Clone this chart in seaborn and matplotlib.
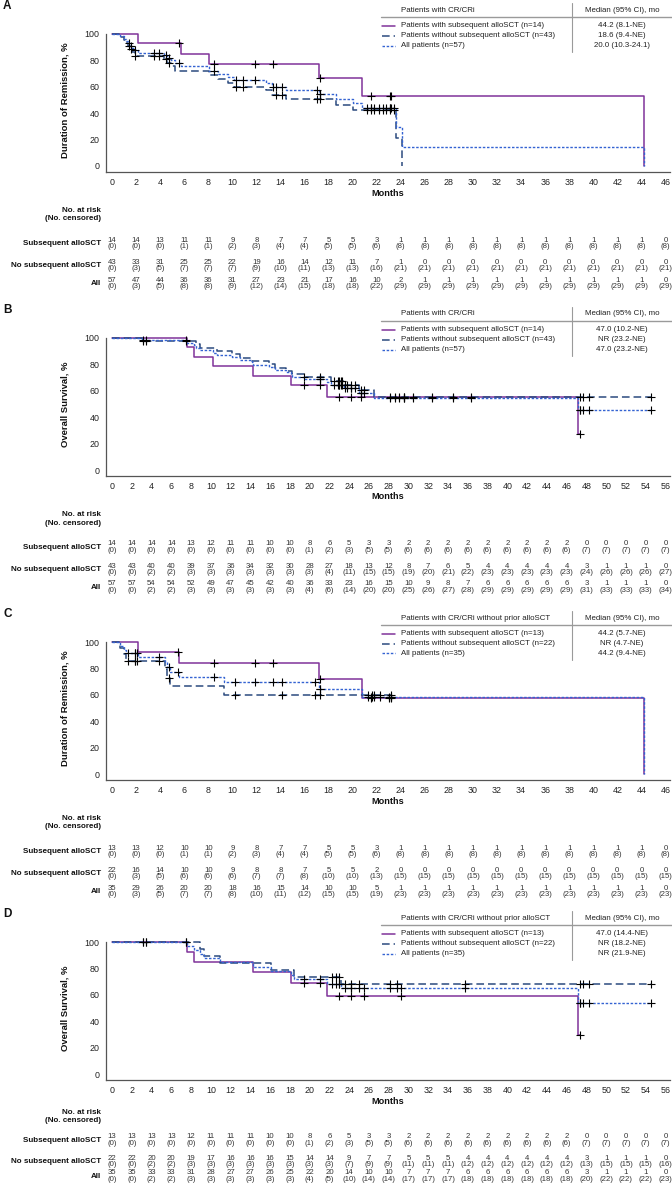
import numpy as np
import pandas as pd
import matplotlib
matplotlib.use('Agg')
import matplotlib.pyplot as plt
from matplotlib.lines import Line2D
from matplotlib.transforms import blended_transform_factory
import seaborn as sns

# Figure size in pixels (saved at dpi 100)
W, H = 672, 1183

# ------------------------------------------------------------------
# Panel A - Duration of remission, patients with CR/CRi
# ------------------------------------------------------------------
A_sub_t = [0, 2.2, 5.7, 8.1, 17.2, 20.8, 44.2]
A_sub_s = [100, 92.9, 85.1, 77.4, 66.3, 53.1, 0]
A_sub_cens = [5.6, 8.5, 11.9, 13.4, 17.3, 21.5, 23.1, 23.2]

A_no_t = [0, 0.7, 1.0, 1.2, 1.3, 1.5, 1.7, 1.9, 4.3, 4.6, 4.9, 5.2, 8.1, 8.8, 9.6, 10.1,
          12.8, 13.3, 14.5, 18.6, 20.0, 23.6, 24.1]
A_no_s = [100, 97.7, 95.3, 93.0, 90.7, 88.4, 86.0, 83.7, 81.0, 78.3, 75.6, 72.0, 69.0, 66.0,
          63.0, 60.2, 57.2, 54.0, 50.4, 46.5, 42.3, 21.2, 0]
A_no_cens = [1.4, 1.6, 1.95, 3.5, 3.9, 4.5, 4.7, 10.3, 10.9, 13.6, 14.1, 17.0, 17.3, 21.2,
             21.5, 21.8, 22.2, 22.5, 22.8, 23.1, 23.4]

A_all_t = [0, 0.7, 1.0, 1.2, 1.3, 1.5, 1.7, 1.9, 2.2, 4.3, 4.6, 4.9, 5.2, 5.7, 8.1, 8.8, 9.6,
           10.1, 12.8, 13.3, 14.5, 17.2, 18.6, 20.0, 20.8, 23.6, 24.1, 44.2]
A_all_s = [100, 98.2, 96.5, 94.7, 93.0, 91.2, 89.4, 87.6, 85.8, 83.8, 81.9, 80.0, 78.1, 76.0,
           71.7, 69.6, 67.5, 65.3, 62.8, 60.2, 57.4, 54.2, 50.8, 47.6, 44.2, 29.5, 14.7, 0]

A_risk_sub = [14, 14, 13, 11, 11, 9, 8, 7, 7, 5, 5, 3, 1, 1, 1, 1, 1, 1, 1, 1, 1, 1, 1, 0]
A_cens_sub = [0, 0, 0, 1, 1, 2, 3, 4, 4, 5, 5, 6, 8, 8, 8, 8, 8, 8, 8, 8, 8, 8, 8, 8]
A_risk_no = [43, 33, 31, 25, 25, 22, 19, 16, 14, 12, 11, 7, 1, 0, 0, 0, 0, 0, 0, 0, 0, 0, 0, 0]
A_cens_no = [0, 3, 5, 7, 7, 7, 9, 10, 11, 13, 13, 16, 21, 21, 21, 21, 21, 21, 21, 21, 21, 21, 21, 21]
A_risk_all = [57, 47, 44, 36, 36, 31, 27, 23, 21, 17, 16, 10, 2, 1, 1, 1, 1, 1, 1, 1, 1, 1, 1, 0]
A_cens_all = [0, 3, 5, 8, 8, 9, 12, 14, 15, 18, 18, 22, 29, 29, 29, 29, 29, 29, 29, 29, 29, 29, 29, 29]
A_medians = ['44.2 (8.1-NE)', '18.6 (9.4-NE)', '20.0 (10.3-24.1)']

# ------------------------------------------------------------------
# Panel B - Overall survival, patients with CR/CRi
# ------------------------------------------------------------------
B_sub_t = [0, 7.6, 8.3, 10.2, 14.3, 18.1, 21.8, 47.1]
B_sub_s = [100, 92.9, 85.7, 78.6, 71.4, 64.3, 55.1, 27.6]
B_sub_cens = [19.4, 21.0, 23.0, 24.2, 25.2, 29.5, 47.3]

B_no_t = [0, 3.0, 8.5, 8.9, 10.6, 12.1, 12.9, 14.2, 15.9, 16.5, 17.6, 18.2, 19.5, 22.2, 23.5,
          25.0, 26.5]
B_no_s = [100, 97.7, 95.2, 92.7, 90.2, 87.7, 85.2, 82.7, 80.1, 77.6, 75.1, 72.6, 70.1, 67.4,
          64.5, 60.5, 55.5]
B_no_cens = [3.1, 3.4, 7.5, 21.0, 22.5, 22.9, 23.0, 23.2, 23.3, 23.6, 23.8, 24.2, 24.6, 25.2,
             25.5, 28.1, 28.6, 29.0, 29.5, 30.5, 32.4, 34.5, 36.3, 47.3, 47.7, 48.3, 54.5]

B_all_t = [0, 3.0, 7.6, 8.3, 8.5, 8.9, 10.2, 10.6, 12.1, 12.9, 14.2, 14.3, 15.9, 16.5, 17.6,
           18.1, 18.2, 19.5, 21.8, 22.2, 23.5, 25.0, 26.5, 47.1]
B_all_s = [100, 98.2, 96.4, 94.5, 92.7, 90.9, 89.0, 87.2, 85.4, 83.5, 81.7, 79.8, 78.0, 76.1,
           74.3, 72.4, 70.6, 68.7, 66.6, 64.6, 61.9, 58.3, 54.6, 45.5]

B_risk_sub = [14, 14, 14, 14, 13, 12, 11, 11, 10, 10, 8, 6, 5, 3, 3, 2, 2, 2, 2, 2, 2, 2, 2, 2,
              0, 0, 0, 0, 0]
B_cens_sub = [0, 0, 0, 0, 0, 0, 0, 0, 0, 0, 1, 2, 3, 5, 5, 6, 6, 6, 6, 6, 6, 6, 6, 6,
              7, 7, 7, 7, 7]
B_risk_no = [43, 43, 40, 40, 39, 37, 36, 34, 32, 30, 28, 27, 18, 13, 12, 8, 7, 6, 5, 4, 4, 4,
             4, 4, 3, 1, 1, 1, 0]
B_cens_no = [0, 0, 2, 2, 3, 3, 3, 3, 3, 3, 3, 4, 11, 15, 15, 19, 20, 21, 22, 23, 23, 23, 23,
             23, 24, 26, 26, 26, 27]
B_risk_all = [57, 57, 54, 54, 52, 49, 47, 45, 42, 40, 36, 33, 23, 16, 15, 10, 9, 8, 7, 6, 6, 6,
              6, 6, 3, 1, 1, 1, 0]
B_cens_all = [0, 0, 2, 2, 3, 3, 3, 3, 3, 3, 4, 6, 14, 20, 20, 25, 26, 27, 28, 29, 29, 29, 29,
              29, 31, 33, 33, 33, 34]
B_medians = ['47.0 (10.2-NE)', 'NR (23.2-NE)', '47.0 (23.2-NE)']

# ------------------------------------------------------------------
# Panel C - Duration of remission, CR/CRi without prior alloSCT
# ------------------------------------------------------------------
C_sub_t = [0, 2.2, 5.6, 17.2, 20.8, 44.2]
C_sub_s = [100, 92.3, 83.9, 71.9, 57.5, 0]
C_sub_cens = [5.5, 8.5, 11.9, 13.4, 17.3, 21.5, 23.0, 23.2]

C_no_t = [0, 0.7, 1.0, 1.2, 4.4, 4.6, 4.8, 9.3]
C_no_s = [100, 95.5, 90.9, 85.9, 79.5, 72.9, 66.3, 59.7]
C_no_cens = [1.3, 1.9, 1.95, 2.1, 3.9, 4.7, 10.2, 14.1, 16.9, 17.3, 21.3, 21.6, 21.8, 22.3, 23.2]

C_all_t = [0, 0.7, 1.0, 1.2, 2.2, 4.4, 4.6, 4.8, 5.6, 9.3, 17.2, 20.8, 44.2]
C_all_s = [100, 97.1, 94.3, 91.4, 88.3, 84.8, 81.3, 77.6, 73.6, 69.6, 64.6, 58.2, 0]

C_risk_sub = [13, 13, 12, 10, 10, 9, 8, 7, 7, 5, 5, 3, 1, 1, 1, 1, 1, 1, 1, 1, 1, 1, 1, 0]
C_cens_sub = [0, 0, 0, 1, 1, 2, 3, 4, 4, 5, 5, 6, 8, 8, 8, 8, 8, 8, 8, 8, 8, 8, 8, 8]
C_risk_no = [22, 16, 14, 10, 10, 9, 8, 8, 7, 5, 5, 2, 0, 0, 0, 0, 0, 0, 0, 0, 0, 0, 0, 0]
C_cens_no = [0, 3, 5, 6, 6, 6, 7, 7, 8, 10, 10, 13, 15, 15, 15, 15, 15, 15, 15, 15, 15, 15, 15, 15]
C_risk_all = [35, 29, 26, 20, 20, 18, 16, 15, 14, 10, 10, 5, 1, 1, 1, 1, 1, 1, 1, 1, 1, 1, 1, 0]
C_cens_all = [0, 3, 5, 7, 7, 8, 10, 11, 12, 15, 15, 19, 23, 23, 23, 23, 23, 23, 23, 23, 23, 23,
              23, 23]
C_medians = ['44.2 (5.7-NE)', 'NR (4.7-NE)', '44.2 (9.4-NE)']

# ------------------------------------------------------------------
# Panel D - Overall survival, CR/CRi without prior alloSCT
# ------------------------------------------------------------------
D_sub_t = [0, 7.6, 8.3, 14.3, 18.1, 21.8, 47.1]
D_sub_s = [100, 92.3, 84.6, 76.9, 69.2, 59.3, 29.7]
D_sub_cens = [19.4, 21.0, 23.0, 24.2, 25.5, 29.2, 47.3]

D_no_t = [0, 8.9, 9.3, 10.9, 16.1, 18.4, 23.2]
D_no_s = [100, 94.7, 89.5, 84.2, 78.9, 73.7, 68.4]
D_no_cens = [3.1, 3.4, 7.5, 22.3, 22.7, 23.0, 23.6, 24.2, 25.0, 28.1, 28.8, 35.7, 47.3, 47.7,
             48.3, 54.5]

D_all_t = [0, 7.6, 8.3, 8.9, 9.3, 10.9, 14.3, 16.1, 18.1, 18.4, 21.8, 23.2, 47.1]
D_all_s = [100, 96.9, 93.8, 90.8, 87.7, 84.6, 81.4, 78.1, 75.0, 71.8, 68.5, 64.9, 54.1]

D_risk_sub = [13, 13, 13, 13, 12, 11, 11, 11, 10, 10, 8, 6, 5, 3, 3, 2, 2, 2, 2, 2, 2, 2, 2, 2,
              0, 0, 0, 0, 0]
D_cens_sub = [0, 0, 0, 0, 0, 0, 0, 0, 0, 0, 1, 2, 3, 5, 5, 6, 6, 6, 6, 6, 6, 6, 6, 6,
              7, 7, 7, 7, 7]
D_risk_no = [22, 22, 20, 20, 19, 17, 16, 16, 16, 15, 14, 14, 9, 7, 7, 5, 5, 5, 4, 4, 4, 4, 4, 4,
             3, 1, 1, 1, 0]
D_cens_no = [0, 0, 2, 2, 3, 3, 3, 3, 3, 3, 3, 3, 7, 9, 9, 11, 11, 11, 12, 12, 12, 12, 12, 12,
             13, 15, 15, 15, 16]
D_risk_all = [35, 35, 33, 33, 31, 28, 27, 27, 26, 25, 22, 20, 14, 10, 10, 7, 7, 7, 6, 6, 6, 6,
              6, 6, 3, 1, 1, 1, 0]
D_cens_all = [0, 0, 2, 2, 3, 3, 3, 3, 3, 3, 4, 5, 10, 14, 14, 17, 17, 17, 18, 18, 18, 18, 18,
              18, 20, 22, 22, 22, 23]
D_medians = ['47.0 (14.4-NE)', 'NR (18.2-NE)', 'NR (21.9-NE)']

# Labels shared by the panels
labels_all = ['Patients with subsequent alloSCT (n=14)',
              'Patients without subsequent alloSCT (n=43)',
              'All patients (n=57)']
labels_noprior = ['Patients with subsequent alloSCT (n=13)',
                  'Patients without subsequent alloSCT (n=22)',
                  'All patients (n=35)']
risk_rows = ['Subsequent alloSCT', 'No subsequent alloSCT', 'All']

# Line styles: subsequent alloSCT, no subsequent alloSCT, all patients
PURPLE = '#80339A'
NAVY = '#2B4A7E'
BLUE = '#3463D2'
styles = [
    dict(color=PURPLE, linestyle='-', linewidth=1.1),
    dict(color=NAVY, linestyle=(0, (5, 2.6)), linewidth=1.1),
    dict(color=BLUE, linestyle=(0, (1.8, 1.2)), linewidth=1.0),
]

# Vertical layout of the at-risk table below the x-axis (pixels below the 0 line)
table_full = dict(nar=(44, 53), rows=(74, 96, 114), gap=7)
table_tight = dict(nar=(39, 47), rows=(63, 84, 99), gap=6.5)


def fx(x):
    return x / W


def fy(y):
    return 1 - y / H


def step_at(t, s, x):
    # value of a step curve (steps-post) at time x
    i = np.searchsorted(t, x, side='right') - 1
    return np.asarray(s, dtype=float)[i]


def draw_panel(fig, y0, x_max, curves, risk_n, risk_c, y_label, letter, header, labels, medians,
               table):
    '''
    Draws one Kaplan-Meier panel with its legend table and number-at-risk table

    :param y0: pixel row of the value 0 on the y-axis
    :param x_max: last tick on the months axis
    '''
    yo = y0 - 166           # top of the panel block
    ppu = 1.32              # pixels per percent
    bottom = y0 + 4.5 * ppu
    top = y0 - 101 * ppu
    ax = fig.add_axes([fx(106), fy(bottom), fx(670) - fx(106), (bottom - top) / H])

    ppm = 553.5 / x_max     # pixels per month
    x_lo = -6 / ppm
    ax.set_xlim(x_lo, x_lo + 564 / ppm)
    ax.set_ylim(-4.5, 101)

    # Kaplan-Meier step curves, extended to the last censored patient
    ext = []
    for (t, s, cens) in curves:
        end = max(t[-1], max(cens))
        tt, ss = list(t), list(s)
        if end > tt[-1]:
            tt.append(end)
            ss.append(ss[-1])
        ext.append((tt, ss, cens))

    for (tt, ss, cens), st in zip(ext, styles):
        df = pd.DataFrame({'Months': tt, 'Pct': ss})
        sns.lineplot(data=df, x='Months', y='Pct', drawstyle='steps-post', estimator=None,
                     sort=False, ax=ax, clip_on=False, legend=False, **st)

    # Censoring marks
    for (tt, ss, cens) in ext:
        ys = [step_at(tt, ss, c) for c in cens]
        sns.scatterplot(x=cens, y=ys, marker='+', color='black', s=30, linewidth=0.8,
                        zorder=6, ax=ax, legend=False, clip_on=False)

    # Axes formatting
    ax.set_xticks(np.arange(0, x_max + 1, 2))
    ax.set_yticks([0, 20, 40, 60, 80, 100])
    ax.tick_params(axis='both', direction='out', length=3, width=0.7, color='#666',
                   labelsize=6.4, labelcolor='#222', pad=1.5)
    sns.despine(ax=ax)
    for sp in ['left', 'bottom']:
        ax.spines[sp].set_color('#555')
        ax.spines[sp].set_linewidth(0.9)
    ax.spines['left'].set_bounds(-4.5, 100)
    ax.set_xlabel('')
    ax.set_ylabel('')

    fig.text(fx(65), fy(y0 - 66), y_label, rotation=90, ha='center', va='center',
             fontweight='bold', fontsize=6.8, color='#111')
    fig.text(fx(388), fy(y0 + 27), 'Months', ha='center', va='center',
             fontweight='bold', fontsize=6.6, color='#111')
    fig.text(fx(3), fy(yo + 6), letter, ha='left', va='center', fontweight='bold',
             fontsize=8.5, color='#111')

    # Legend table
    fig.text(fx(401), fy(yo + 10), header, ha='left', va='center', fontsize=5.7, color='#222')
    fig.text(fx(622), fy(yo + 10), 'Median (95% CI), mo', ha='center', va='center',
             fontsize=5.7, color='#222')
    fig.add_artist(Line2D([fx(381), fx(672)], [fy(yo + 17)] * 2, transform=fig.transFigure,
                          color='#9a9a9a', lw=1.0))
    fig.add_artist(Line2D([fx(572)] * 2, [fy(yo + 3), fy(yo + 52)], transform=fig.transFigure,
                          color='#9a9a9a', lw=0.8))
    for i, (lab, med) in enumerate(zip(labels, medians)):
        yr = yo + 25.5 + 10 * i
        fig.add_artist(Line2D([fx(382), fx(395)], [fy(yr)] * 2, transform=fig.transFigure,
                              **styles[i]))
        fig.text(fx(401), fy(yr), lab, ha='left', va='center', fontsize=5.7, color='#222')
        fig.text(fx(622), fy(yr), med, ha='center', va='center', fontsize=5.7, color='#222')

    # Number at risk table
    fig.text(fx(101), fy(y0 + table['nar'][0]), 'No. at risk', ha='right', va='center',
             fontweight='bold', fontsize=5.8, color='#111')
    fig.text(fx(101), fy(y0 + table['nar'][1]), '(No. censored)', ha='right', va='center',
             fontweight='bold', fontsize=5.8, color='#111')
    trans = blended_transform_factory(ax.transData, fig.transFigure)
    months = np.arange(0, x_max + 1, 2)
    for i, row in enumerate(risk_rows):
        yn = y0 + table['rows'][i]
        fig.text(fx(101), fy(yn + table['gap'] / 2), row, ha='right', va='center',
                 fontweight='bold', fontsize=5.8, color='#111')
        for m, n, c in zip(months, risk_n[i], risk_c[i]):
            ax.text(m, fy(yn), str(n), transform=trans, ha='center', va='center',
                    fontsize=5.6, color='#333')
            ax.text(m, fy(yn + table['gap']), f'({c})', transform=trans, ha='center',
                    va='center', fontsize=5.6, color='#333')
    return ax


sns.set_theme(style='white')
plt.rcParams['font.family'] = ['Liberation Sans', 'DejaVu Sans']

fig = plt.figure(figsize=(W / 100, H / 100), dpi=100)

draw_panel(fig, 166, 46,
           [(A_sub_t, A_sub_s, A_sub_cens), (A_no_t, A_no_s, A_no_cens),
            (A_all_t, A_all_s, sorted(A_sub_cens + A_no_cens))],
           [A_risk_sub, A_risk_no, A_risk_all], [A_cens_sub, A_cens_no, A_cens_all],
           'Duration of Remission, %', 'A', 'Patients with CR/CRi', labels_all, A_medians,
           table_full)

draw_panel(fig, 470, 56,
           [(B_sub_t, B_sub_s, B_sub_cens), (B_no_t, B_no_s, B_no_cens),
            (B_all_t, B_all_s, sorted(B_sub_cens + B_no_cens))],
           [B_risk_sub, B_risk_no, B_risk_all], [B_cens_sub, B_cens_no, B_cens_all],
           'Overall Survival, %', 'B', 'Patients with CR/CRi', labels_all, B_medians,
           table_full)

draw_panel(fig, 774, 46,
           [(C_sub_t, C_sub_s, C_sub_cens), (C_no_t, C_no_s, C_no_cens),
            (C_all_t, C_all_s, sorted(C_sub_cens + C_no_cens))],
           [C_risk_sub, C_risk_no, C_risk_all], [C_cens_sub, C_cens_no, C_cens_all],
           'Duration of Remission, %', 'C', 'Patients with CR/CRi without prior alloSCT',
           labels_noprior, C_medians, table_full)

draw_panel(fig, 1074, 56,
           [(D_sub_t, D_sub_s, D_sub_cens), (D_no_t, D_no_s, D_no_cens),
            (D_all_t, D_all_s, sorted(D_sub_cens + D_no_cens))],
           [D_risk_sub, D_risk_no, D_risk_all], [D_cens_sub, D_cens_no, D_cens_all],
           'Overall Survival, %', 'D', 'Patients with CR/CRi without prior alloSCT',
           labels_noprior, D_medians, table_tight)

fig.savefig('out.png', dpi=100)
